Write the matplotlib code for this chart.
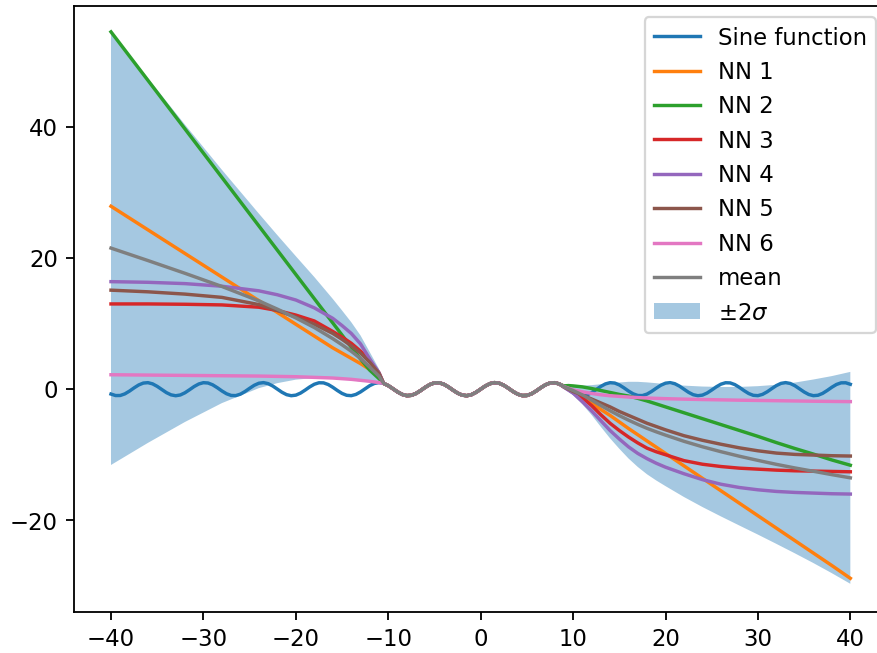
import numpy as np
import matplotlib
matplotlib.use("Agg")
import matplotlib.pyplot as plt

#target sine, sampled every 0.5 from -40 to 40
sine_x = np.arange(-40, 40.25, 0.5)
sine_y = [-0.745, -0.974, -0.964, -0.718, -0.296, 0.198, 0.644, 0.931, 0.992, 0.809,
	0.428, -0.057, -0.529, -0.870, -1.000, -0.885, -0.551, -0.084, 0.404, 0.792,
	0.988, 0.941, 0.664, 0.224, -0.271, -0.699, -0.956, -0.980, -0.763, -0.358,
	0.132, 0.591, 0.906, 0.998, 0.846, 0.487, 0.009, -0.473, -0.837, -0.997,
	-0.913, -0.605, -0.150, 0.342, 0.751, 0.976, 0.961, 0.712, 0.288, -0.206,
	-0.650, -0.935, -0.991, -0.804, -0.420, 0.066, 0.537, 0.875, 1.000, 0.880,
	0.544, 0.075, -0.412, -0.798, -0.989, -0.938, -0.657, -0.215, 0.279, 0.706,
	0.959, 0.978, 0.757, 0.351, -0.141, -0.598, -0.909, -0.997, -0.841, -0.479,
	0.0,
	0.479, 0.841, 0.997, 0.909, 0.598, 0.141, -0.351, -0.757, -0.978, -0.959,
	-0.706, -0.279, 0.215, 0.657, 0.938, 0.989, 0.798, 0.412, -0.075, -0.544,
	-0.880, -1.000, -0.875, -0.537, -0.066, 0.420, 0.804, 0.991, 0.935, 0.650,
	0.206, -0.288, -0.712, -0.961, -0.976, -0.751, -0.342, 0.150, 0.605, 0.913,
	0.997, 0.837, 0.473, -0.009, -0.487, -0.846, -0.998, -0.906, -0.591, -0.132,
	0.358, 0.763, 0.980, 0.956, 0.699, 0.271, -0.224, -0.664, -0.941, -0.988,
	-0.792, -0.404, 0.084, 0.551, 0.885, 1.000, 0.870, 0.529, 0.057, -0.428,
	-0.809, -0.992, -0.931, -0.644, -0.198, 0.296, 0.718, 0.964, 0.974, 0.745]

#network outputs: left extrapolation, fit region, right extrapolation
nn_x_left = [-40, -36, -32, -28, -24, -22, -20, -18, -16, -15, -14, -13, -12, -11]
nn_x_mid = list(np.arange(-10.5, 8.75, 0.5))
nn_x_right = [9, 9.5, 10, 11, 12, 13, 14, 15, 16, 17, 18, 19, 20, 22, 24, 26, 28, 30, 32, 34, 36, 38, 40]

#inside the fit region all nets sit on the sine
fit_mid = [0.880, 0.544, 0.075, -0.412, -0.798, -0.989, -0.938, -0.657, -0.215, 0.279,
	0.706, 0.959, 0.978, 0.757, 0.351, -0.141, -0.598, -0.909, -0.997, -0.841,
	-0.479, 0.0, 0.479, 0.841, 0.997, 0.909, 0.598, 0.141, -0.351, -0.757,
	-0.978, -0.959, -0.706, -0.279, 0.215, 0.657, 0.938, 0.989, 0.798]

nn1_left = [27.9, 24.3, 20.7, 17.1, 13.5, 11.7, 9.9, 8.1, 6.3, 5.5, 4.7, 3.9, 3.0, 1.9]
nn1_right = [0.4, 0.0, -0.3, -1.1, -2.1, -3.1, -4.0, -5.0, -6.0, -6.95, -7.9, -8.85, -9.8, -11.7, -13.6, -15.5, -17.4, -19.3, -21.2, -23.1, -25.0, -26.9, -28.85]
nn2_left = [54.5, 47.1, 39.7, 32.3, 24.9, 21.2, 17.5, 13.8, 10.1, 8.25, 6.4, 4.6, 2.9, 1.6]
nn2_right = [0.5, 0.55, 0.5, 0.35, 0.1, -0.2, -0.5, -0.8, -1.05, -1.4, -1.8, -2.25, -2.7, -3.6, -4.5, -5.4, -6.3, -7.2, -8.15, -9.05, -9.9, -10.8, -11.6]
nn3_left = [13.0, 13.0, 12.95, 12.85, 12.5, 12.0, 11.3, 10.4, 8.8, 7.95, 7.0, 5.8, 4.3, 2.5]
nn3_right = [0.35, -0.05, -0.4, -1.3, -2.5, -3.9, -5.2, -6.3, -7.3, -8.2, -9.0, -9.55, -10.0, -10.9, -11.45, -11.8, -12.05, -12.2, -12.35, -12.45, -12.5, -12.55, -12.6]
nn4_left = [16.4, 16.3, 16.1, 15.7, 15.0, 14.4, 13.6, 12.4, 10.8, 9.7, 8.5, 6.9, 4.6, 2.5]
nn4_right = [0.3, -0.15, -0.6, -1.9, -3.3, -4.8, -6.3, -7.6, -8.8, -9.8, -10.6, -11.3, -11.9, -12.9, -13.8, -14.5, -15.0, -15.35, -15.6, -15.75, -15.85, -15.95, -16.0]
nn5_left = [15.1, 14.85, 14.5, 14.0, 12.9, 12.0, 11.0, 9.9, 8.5, 7.6, 6.6, 5.5, 4.1, 2.4]
nn5_right = [0.35, 0.0, -0.35, -0.9, -1.5, -2.1, -2.7, -3.4, -4.0, -4.6, -5.2, -5.7, -6.2, -7.1, -7.8, -8.4, -8.95, -9.4, -9.75, -9.95, -10.05, -10.15, -10.2]
nn6_left = [2.2, 2.15, 2.1, 2.05, 2.0, 1.95, 1.9, 1.8, 1.7, 1.6, 1.5, 1.35, 1.2, 1.0]
nn6_right = [0.4, 0.15, -0.1, -0.4, -0.65, -0.85, -1.0, -1.1, -1.2, -1.28, -1.35, -1.4, -1.45, -1.52, -1.58, -1.63, -1.68, -1.72, -1.76, -1.8, -1.84, -1.87, -1.9]

nn_labels = ["NN 1", "NN 2", "NN 3", "NN 4", "NN 5", "NN 6"]

if __name__ == '__main__':
	assert(len(sine_y) == len(sine_x))
	assert(len(fit_mid) == len(nn_x_mid))

	nn_x = np.array(nn_x_left + nn_x_mid + nn_x_right)
	lefts = [nn1_left, nn2_left, nn3_left, nn4_left, nn5_left, nn6_left]
	rights = [nn1_right, nn2_right, nn3_right, nn4_right, nn5_right, nn6_right]
	for l, r in zip(lefts, rights):
		assert(len(l) == len(nn_x_left) and len(r) == len(nn_x_right))
	nn = np.array([l + fit_mid + r for l, r in zip(lefts, rights)])

	#ensemble statistics
	mean = nn.mean(axis=0)
	sigma = nn.std(axis=0)

	fig = plt.figure(figsize=(877.3/164, 653.3/164), dpi=164)
	ax = fig.add_axes([74/877, 41.3/653, 813/877, 605.7/653])

	ax.plot(sine_x, sine_y, label="Sine function")
	for y, lab in zip(nn, nn_labels):
		ax.plot(nn_x, y, label=lab)
	ax.plot(nn_x, mean, label="mean")
	ax.fill_between(nn_x, mean - 2*sigma, mean + 2*sigma, alpha=0.4, label=r"$\pm 2\sigma$")

	ax.set_xlim(-44, 44)
	ax.set_ylim(-33.94, 58.49)
	ax.legend(loc="upper right")

	fig.savefig("out.png", dpi=164)
	plt.close()
